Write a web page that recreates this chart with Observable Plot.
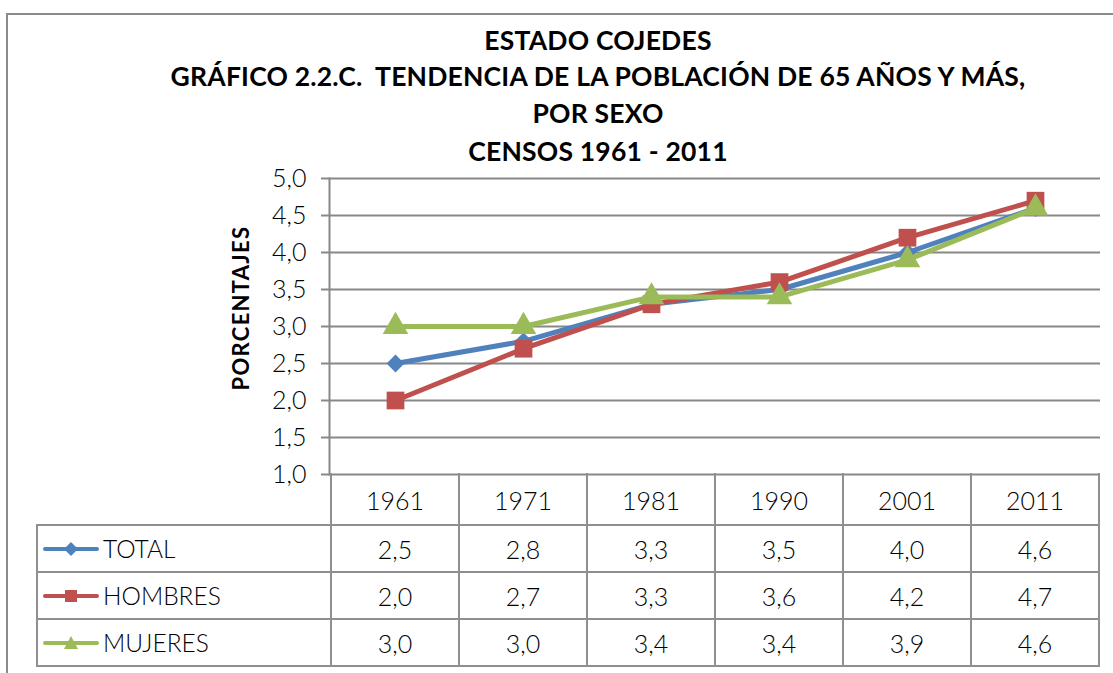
<!DOCTYPE html>
<html>
<head>
<meta charset="utf-8">
<script src="https://cdn.jsdelivr.net/npm/d3@7"></script>
<script src="https://cdn.jsdelivr.net/npm/@observablehq/plot@0.6"></script>
<style>
  body { margin: 0; background: #fff; }
  #wrap { position: relative; width: 1113px; height: 673px; overflow: hidden; font-family: Lato, "Open Sans", sans-serif; color: #000; }
  #frame { position: absolute; left: 6px; top: 13px; width: 1200px; height: 800px; border: 2px solid #8a8a8a; box-sizing: border-box; }
  .title { position: absolute; left: 0; width: 1196px; text-align: center; font-weight: bold; font-size: 26.5px; line-height: 26px; white-space: pre; letter-spacing: 0.2px; }
  #ylabel { position: absolute; left: 241px; top: 308px; transform: translate(-50%, -50%) rotate(-90deg); font-weight: bold; font-size: 22px; letter-spacing: 1.3px; white-space: nowrap; line-height: 22px; }
  .hl { position: absolute; height: 2px; background: #8f8f8f; }
  .vl { position: absolute; width: 2px; background: #8f8f8f; }
  .cell { position: absolute; display: flex; align-items: center; justify-content: center; font-size: 25px; font-weight: 300; }
  .leg { position: absolute; display: flex; align-items: center; font-size: 24.5px; font-weight: 300; }
  #plot { position: absolute; left: 0; top: 160px; }
</style>
</head>
<body>
<div id="wrap">
  <div id="frame"></div>
  <div id="plot"></div>
  <div id="ylabel">PORCENTAJES</div>
</div>
<script>
const titleLines = ["ESTADO COJEDES", "GRÁFICO 2.2.C.  TENDENCIA DE LA POBLACIÓN DE 65 AÑOS Y MÁS,", "POR SEXO", "CENSOS 1961 - 2011"];
const years = ["1961", "1971", "1981", "1990", "2001", "2011"];
const seriesNames = ["TOTAL", "HOMBRES", "MUJERES"];
const total = [2.5, 2.8, 3.3, 3.5, 4.0, 4.6];
const hombres = [2.0, 2.7, 3.3, 3.6, 4.2, 4.7];
const mujeres = [3.0, 3.0, 3.4, 3.4, 3.9, 4.6];
const yTicks = [1.0, 1.5, 2.0, 2.5, 3.0, 3.5, 4.0, 4.5, 5.0];
const colors = ["#4F81BD", "#C0504D", "#9BBB59"];
const symbols = ["diamond2", "square", "triangle"];
const radii = [8, 10, 9.5];

const fmt = v => v.toFixed(1).replace(".", ",");
const seriesValues = [total, hombres, mujeres];
const rows = seriesNames.flatMap((s, si) => years.map((y, i) => ({serie: s, si, year: y, value: seriesValues[si][i]})));

const wrap = document.getElementById("wrap");
const titleTops = [27, 63, 100, 138];
titleLines.forEach((t, i) => {
  const d = document.createElement("div");
  d.className = "title";
  d.style.top = titleTops[i] + "px";
  d.textContent = t;
  wrap.appendChild(d);
});

const gridColor = "#888888";
const marks = [
  Plot.gridY(yTicks, {stroke: gridColor, strokeOpacity: 1, strokeWidth: 2}),
  Plot.frame({anchor: "left", stroke: gridColor, strokeWidth: 2}),
  Plot.axisY(yTicks, {tickSize: 8, tickPadding: 15, tickFormat: fmt, stroke: gridColor, strokeWidth: 2, fontSize: 25, fontWeight: 300, fill: "#000", label: null}),
];
seriesNames.forEach((s, si) => {
  const d = rows.filter(r => r.si === si);
  marks.push(Plot.line(d, {x: "year", y: "value", stroke: colors[si], strokeWidth: 5, strokeLinejoin: "round"}));
  marks.push(Plot.dot(d, {x: "year", y: "value", symbol: () => symbols[si], r: radii[si], fill: colors[si], stroke: "none"}));
});

const chart = Plot.plot({
  width: 1113,
  height: 322,
  marginTop: 18,
  marginBottom: 8,
  marginLeft: 329,
  marginRight: 13,
  style: {background: "none", overflow: "visible", fontFamily: "Lato, sans-serif", fontSize: "22px", color: "#000"},
  x: {type: "band", domain: years, paddingInner: 0, paddingOuter: 0, axis: null},
  y: {domain: [1, 5], axis: null},
  symbol: {type: "identity"},
  marks
});
document.getElementById("plot").appendChild(chart);

// Data table aligned with the plot's x scale
const xs = chart.scale("x");
const bw = xs.bandwidth;
const plotTop = 160;
const y0 = plotTop + 322 - 8; // y of value 1.0 in page coords
const rowEdges = [y0, y0 + 51, y0 + 98, y0 + 145, y0 + 192];
const leftX = 37;
const xLeft = xs.apply(years[0]);
const xRight = xs.apply(years[years.length - 1]) + bw;

function addDiv(cls, left, top, w, h, html) {
  const d = document.createElement("div");
  d.className = cls;
  d.style.left = left + "px"; d.style.top = top + "px";
  if (w != null) d.style.width = w + "px";
  if (h != null) d.style.height = h + "px";
  if (html != null) d.innerHTML = html;
  wrap.appendChild(d);
  return d;
}
for (let k = 1; k < rowEdges.length; k++) addDiv("hl", leftX - 1, rowEdges[k] - 1, xRight - leftX + 2, null);
addDiv("vl", leftX - 1, rowEdges[1] - 1, null, rowEdges[4] - rowEdges[1] + 2);
years.forEach(y => addDiv("vl", xs.apply(y) - 1, rowEdges[0] - 1, null, rowEdges[4] - rowEdges[0] + 2));
addDiv("vl", xRight - 1, rowEdges[0] - 1, null, rowEdges[4] - rowEdges[0] + 2);
years.forEach(y => addDiv("cell", xs.apply(y), rowEdges[0], bw, rowEdges[1] - rowEdges[0], y));
function swatch(si) {
  const c = colors[si];
  let m;
  if (si === 0) m = `<path d="M28,5 L35,12 L28,19 L21,12 Z" fill="${c}"/>`;
  else if (si === 1) m = `<rect x="22" y="6" width="12" height="12" fill="${c}"/>`;
  else m = `<path d="M28,5 L35,18 L21,18 Z" fill="${c}"/>`;
  return `<svg width="56" height="24" style="margin-right:4px"><line x1="2" y1="12" x2="54" y2="12" stroke="${c}" stroke-width="4" stroke-linecap="round"/>${m}</svg>`;
}
seriesNames.forEach((s, si) => {
  const top = rowEdges[si + 1], h = rowEdges[si + 2] - rowEdges[si + 1];
  addDiv("leg", leftX + 6, top, xLeft - leftX - 6, h, swatch(si) + s);
  years.forEach((y, i) => addDiv("cell", xs.apply(y), top, bw, h, fmt(seriesValues[si][i])));
});
</script>
</body>
</html>
